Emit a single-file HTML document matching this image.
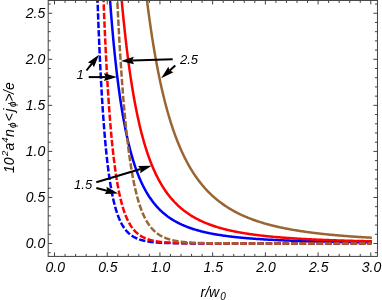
<!DOCTYPE html>
<html><head><meta charset="utf-8"><title>plot</title>
<style>
html,body{margin:0;padding:0;background:#fff;}
body{width:382px;height:300px;overflow:hidden;}
svg{display:block;}
text{font-family:"Liberation Sans",sans-serif;font-style:italic;font-size:14px;fill:#000;}
</style></head><body>
<svg width="382" height="300" viewBox="0 0 382 300">
<rect x="0" y="0" width="382" height="300" fill="#fff"/>
<defs><clipPath id="c"><rect x="48.2" y="0.45" width="329.25" height="255.95"/></clipPath></defs>
<g clip-path="url(#c)">
<path d="M108.66,-19.69 L109.37,-9.22 L110.09,0.71 L110.80,10.13 L111.52,19.06 L112.23,27.55 L112.95,35.62 L113.66,43.30 L114.38,50.60 L115.10,57.55 L115.81,64.18 L116.53,70.50 L117.24,76.52 L117.96,82.27 L118.67,87.76 L119.39,93.01 L120.10,98.02 L120.82,102.81 L121.53,107.40 L122.25,111.79 L122.96,116.00 L123.68,120.02 L124.40,123.89 L125.11,127.59 L125.83,131.14 L126.54,134.55 L127.26,137.82 L127.97,140.97 L128.69,143.99 L129.40,146.89 L130.12,149.69 L130.83,152.38 L131.55,154.96 L132.26,157.45 L132.98,159.85 L133.69,162.16 L134.41,164.38 L135.13,166.53 L135.84,168.60 L136.56,170.60 L137.27,172.52 L137.99,174.38 L138.70,176.18 L139.42,177.91 L140.13,179.59 L140.85,181.20 L141.56,182.77 L142.28,184.28 L142.99,185.75 L143.71,187.16 L144.43,188.53 L145.14,189.86 L145.86,191.14 L146.57,192.39 L147.29,193.59 L148.00,194.76 L148.72,195.89 L149.43,196.99 L150.15,198.05 L150.86,199.08 L151.58,200.08 L152.29,201.06 L153.01,202.00 L153.72,202.91 L154.44,203.80 L155.16,204.66 L155.87,205.50 L156.59,206.32 L157.30,207.11 L158.02,207.88 L158.73,208.62 L159.45,209.35 L160.16,210.06 L160.88,210.74 L161.59,211.41 L162.31,212.06 L163.02,212.70 L163.74,213.31 L164.46,213.92 L165.17,214.50 L165.89,215.07 L166.60,215.62 L167.32,216.16 L168.03,216.69 L168.75,217.20 L169.46,217.70 L170.18,218.19 L170.89,218.67 L171.61,219.13 L172.32,219.58 L173.04,220.02 L173.76,220.46 L174.47,220.88 L175.19,221.28 L175.90,221.69 L176.62,222.08 L177.33,222.46 L178.05,222.83 L178.76,223.19 L179.48,223.55 L180.19,223.90 L180.91,224.23 L181.62,224.57 L182.34,224.89 L183.05,225.21 L183.77,225.52 L184.49,225.82 L185.20,226.11 L185.92,226.40 L186.63,226.69 L187.35,226.96 L188.06,227.23 L188.78,227.50 L189.49,227.76 L190.21,228.01 L190.92,228.26 L191.64,228.50 L192.35,228.74 L193.07,228.97 L193.79,229.20 L194.50,229.42 L195.22,229.64 L195.93,229.85 L196.65,230.06 L197.36,230.27 L198.08,230.47 L198.79,230.67 L199.51,230.86 L200.22,231.05 L200.94,231.24 L201.65,231.42 L202.37,231.60 L203.08,231.77 L203.80,231.94 L204.52,232.11 L205.23,232.28 L205.95,232.44 L206.66,232.60 L207.38,232.75 L208.09,232.91 L208.81,233.06 L209.52,233.20 L210.24,233.35 L210.95,233.49 L211.67,233.63 L212.38,233.76 L213.10,233.90 L213.82,234.03 L214.53,234.16 L215.25,234.28 L215.96,234.41 L216.68,234.53 L217.39,234.65 L218.11,234.77 L218.82,234.89 L219.54,235.00 L220.25,235.11 L220.97,235.22 L221.68,235.33 L222.40,235.43 L223.11,235.54 L223.83,235.64 L224.55,235.74 L225.26,235.84 L225.98,235.94 L226.69,236.03 L227.41,236.13 L228.12,236.22 L228.84,236.31 L229.55,236.40 L230.27,236.49 L230.98,236.58 L231.70,236.66 L232.41,236.74 L233.13,236.83 L233.85,236.91 L234.56,236.99 L235.28,237.07 L235.99,237.14 L236.71,237.22 L237.42,237.29 L238.14,237.37 L238.85,237.44 L239.57,237.51 L240.28,237.58 L241.00,237.65 L241.71,237.72 L242.43,237.78 L243.15,237.85 L243.86,237.92 L244.58,237.98 L245.29,238.04 L246.01,238.10 L246.72,238.17 L247.44,238.23 L248.15,238.28 L248.87,238.34 L249.58,238.40 L250.30,238.46 L251.01,238.51 L251.73,238.57 L252.44,238.62 L253.16,238.67 L253.88,238.73 L254.59,238.78 L255.31,238.83 L256.02,238.88 L256.74,238.93 L257.45,238.98 L258.17,239.03 L258.88,239.07 L259.60,239.12 L260.31,239.17 L261.03,239.21 L261.74,239.26 L262.46,239.30 L263.18,239.35 L263.89,239.39 L264.61,239.43 L265.32,239.47 L266.04,239.51 L266.75,239.55 L267.47,239.60 L268.18,239.63 L268.90,239.67 L269.61,239.71 L270.33,239.75 L271.04,239.79 L271.76,239.82 L272.47,239.86 L273.19,239.90 L273.91,239.93 L274.62,239.97 L275.34,240.00 L276.05,240.04 L276.77,240.07 L277.48,240.10 L278.20,240.14 L278.91,240.17 L279.63,240.20 L280.34,240.23 L281.06,240.26 L281.77,240.29 L282.49,240.32 L283.21,240.35 L283.92,240.38 L284.64,240.41 L285.35,240.44 L286.07,240.47 L286.78,240.50 L287.50,240.53 L288.21,240.55 L288.93,240.58 L289.64,240.61 L290.36,240.63 L291.07,240.66 L291.79,240.69 L292.50,240.71 L293.22,240.74 L293.94,240.76 L294.65,240.79 L295.37,240.81 L296.08,240.83 L296.80,240.86 L297.51,240.88 L298.23,240.90 L298.94,240.93 L299.66,240.95 L300.37,240.97 L301.09,240.99 L301.80,241.02 L302.52,241.04 L303.24,241.06 L303.95,241.08 L304.67,241.10 L305.38,241.12 L306.10,241.14 L306.81,241.16 L307.53,241.18 L308.24,241.20 L308.96,241.22 L309.67,241.24 L310.39,241.26 L311.10,241.28 L311.82,241.30 L312.54,241.31 L313.25,241.33 L313.97,241.35 L314.68,241.37 L315.40,241.39 L316.11,241.40 L316.83,241.42 L317.54,241.44 L318.26,241.45 L318.97,241.47 L319.69,241.49 L320.40,241.50 L321.12,241.52 L321.83,241.53 L322.55,241.55 L323.27,241.57 L323.98,241.58 L324.70,241.60 L325.41,241.61 L326.13,241.63 L326.84,241.64 L327.56,241.66 L328.27,241.67 L328.99,241.68 L329.70,241.70 L330.42,241.71 L331.13,241.73 L331.85,241.74 L332.57,241.75 L333.28,241.77 L334.00,241.78 L334.71,241.79 L335.43,241.81 L336.14,241.82 L336.86,241.83 L337.57,241.84 L338.29,241.86 L339.00,241.87 L339.72,241.88 L340.43,241.89 L341.15,241.90 L341.86,241.92 L342.58,241.93 L343.30,241.94 L344.01,241.95 L344.73,241.96 L345.44,241.97 L346.16,241.99 L346.87,242.00 L347.59,242.01 L348.30,242.02 L349.02,242.03 L349.73,242.04 L350.45,242.05 L351.16,242.06 L351.88,242.07 L352.60,242.08 L353.31,242.09 L354.03,242.10 L354.74,242.11 L355.46,242.12 L356.17,242.13 L356.89,242.14 L357.60,242.15 L358.32,242.16 L359.03,242.17 L359.75,242.18 L360.46,242.19 L361.18,242.19 L361.90,242.20 L362.61,242.21 L363.33,242.22 L364.04,242.23 L364.76,242.24 L365.47,242.25 L366.19,242.26 L366.90,242.26 L367.62,242.27 L368.33,242.28 L369.05,242.29 L369.76,242.30 L370.48,242.30 L371.19,242.31 L371.91,242.32" stroke="#0000ff" stroke-width="2.5" fill="none"/>
<path d="M120.10,-18.41 L120.82,-9.87 L121.53,-1.69 L122.25,6.14 L122.96,13.64 L123.68,20.83 L124.40,27.72 L125.11,34.33 L125.83,40.68 L126.54,46.77 L127.26,52.63 L127.97,58.25 L128.69,63.65 L129.40,68.85 L130.12,73.85 L130.83,78.66 L131.55,83.29 L132.26,87.75 L132.98,92.05 L133.69,96.19 L134.41,100.18 L135.13,104.03 L135.84,107.74 L136.56,111.32 L137.27,114.78 L137.99,118.12 L138.70,121.34 L139.42,124.46 L140.13,127.47 L140.85,130.38 L141.56,133.19 L142.28,135.91 L142.99,138.54 L143.71,141.09 L144.43,143.56 L145.14,145.95 L145.86,148.26 L146.57,150.50 L147.29,152.67 L148.00,154.77 L148.72,156.81 L149.43,158.79 L150.15,160.71 L150.86,162.57 L151.58,164.37 L152.29,166.13 L153.01,167.83 L153.72,169.48 L154.44,171.08 L155.16,172.64 L155.87,174.16 L156.59,175.63 L157.30,177.06 L158.02,178.45 L158.73,179.80 L159.45,181.12 L160.16,182.39 L160.88,183.64 L161.59,184.85 L162.31,186.03 L163.02,187.17 L163.74,188.29 L164.46,189.38 L165.17,190.44 L165.89,191.47 L166.60,192.48 L167.32,193.46 L168.03,194.41 L168.75,195.34 L169.46,196.25 L170.18,197.13 L170.89,198.00 L171.61,198.84 L172.32,199.66 L173.04,200.46 L173.76,201.24 L174.47,202.01 L175.19,202.75 L175.90,203.48 L176.62,204.19 L177.33,204.88 L178.05,205.56 L178.76,206.22 L179.48,206.86 L180.19,207.50 L180.91,208.11 L181.62,208.72 L182.34,209.31 L183.05,209.88 L183.77,210.44 L184.49,211.00 L185.20,211.53 L185.92,212.06 L186.63,212.58 L187.35,213.08 L188.06,213.57 L188.78,214.06 L189.49,214.53 L190.21,214.99 L190.92,215.44 L191.64,215.89 L192.35,216.32 L193.07,216.75 L193.79,217.16 L194.50,217.57 L195.22,217.97 L195.93,218.36 L196.65,218.74 L197.36,219.12 L198.08,219.48 L198.79,219.84 L199.51,220.20 L200.22,220.54 L200.94,220.88 L201.65,221.22 L202.37,221.54 L203.08,221.86 L203.80,222.18 L204.52,222.48 L205.23,222.79 L205.95,223.08 L206.66,223.37 L207.38,223.66 L208.09,223.94 L208.81,224.21 L209.52,224.48 L210.24,224.74 L210.95,225.00 L211.67,225.26 L212.38,225.51 L213.10,225.75 L213.82,226.00 L214.53,226.23 L215.25,226.46 L215.96,226.69 L216.68,226.92 L217.39,227.14 L218.11,227.35 L218.82,227.57 L219.54,227.78 L220.25,227.98 L220.97,228.18 L221.68,228.38 L222.40,228.58 L223.11,228.77 L223.83,228.96 L224.55,229.14 L225.26,229.32 L225.98,229.50 L226.69,229.68 L227.41,229.85 L228.12,230.02 L228.84,230.19 L229.55,230.35 L230.27,230.51 L230.98,230.67 L231.70,230.83 L232.41,230.98 L233.13,231.13 L233.85,231.28 L234.56,231.43 L235.28,231.57 L235.99,231.72 L236.71,231.86 L237.42,231.99 L238.14,232.13 L238.85,232.26 L239.57,232.39 L240.28,232.52 L241.00,232.65 L241.71,232.78 L242.43,232.90 L243.15,233.02 L243.86,233.14 L244.58,233.26 L245.29,233.37 L246.01,233.49 L246.72,233.60 L247.44,233.71 L248.15,233.82 L248.87,233.93 L249.58,234.03 L250.30,234.14 L251.01,234.24 L251.73,234.34 L252.44,234.44 L253.16,234.54 L253.88,234.64 L254.59,234.73 L255.31,234.83 L256.02,234.92 L256.74,235.01 L257.45,235.10 L258.17,235.19 L258.88,235.28 L259.60,235.37 L260.31,235.45 L261.03,235.53 L261.74,235.62 L262.46,235.70 L263.18,235.78 L263.89,235.86 L264.61,235.94 L265.32,236.02 L266.04,236.09 L266.75,236.17 L267.47,236.24 L268.18,236.31 L268.90,236.39 L269.61,236.46 L270.33,236.53 L271.04,236.60 L271.76,236.67 L272.47,236.73 L273.19,236.80 L273.91,236.87 L274.62,236.93 L275.34,237.00 L276.05,237.06 L276.77,237.12 L277.48,237.18 L278.20,237.24 L278.91,237.30 L279.63,237.36 L280.34,237.42 L281.06,237.48 L281.77,237.54 L282.49,237.59 L283.21,237.65 L283.92,237.70 L284.64,237.76 L285.35,237.81 L286.07,237.86 L286.78,237.92 L287.50,237.97 L288.21,238.02 L288.93,238.07 L289.64,238.12 L290.36,238.17 L291.07,238.22 L291.79,238.26 L292.50,238.31 L293.22,238.36 L293.94,238.40 L294.65,238.45 L295.37,238.50 L296.08,238.54 L296.80,238.58 L297.51,238.63 L298.23,238.67 L298.94,238.71 L299.66,238.75 L300.37,238.80 L301.09,238.84 L301.80,238.88 L302.52,238.92 L303.24,238.96 L303.95,239.00 L304.67,239.03 L305.38,239.07 L306.10,239.11 L306.81,239.15 L307.53,239.19 L308.24,239.22 L308.96,239.26 L309.67,239.29 L310.39,239.33 L311.10,239.36 L311.82,239.40 L312.54,239.43 L313.25,239.47 L313.97,239.50 L314.68,239.53 L315.40,239.56 L316.11,239.60 L316.83,239.63 L317.54,239.66 L318.26,239.69 L318.97,239.72 L319.69,239.75 L320.40,239.78 L321.12,239.81 L321.83,239.84 L322.55,239.87 L323.27,239.90 L323.98,239.93 L324.70,239.96 L325.41,239.99 L326.13,240.01 L326.84,240.04 L327.56,240.07 L328.27,240.09 L328.99,240.12 L329.70,240.15 L330.42,240.17 L331.13,240.20 L331.85,240.22 L332.57,240.25 L333.28,240.27 L334.00,240.30 L334.71,240.32 L335.43,240.35 L336.14,240.37 L336.86,240.40 L337.57,240.42 L338.29,240.44 L339.00,240.47 L339.72,240.49 L340.43,240.51 L341.15,240.53 L341.86,240.55 L342.58,240.58 L343.30,240.60 L344.01,240.62 L344.73,240.64 L345.44,240.66 L346.16,240.68 L346.87,240.70 L347.59,240.72 L348.30,240.74 L349.02,240.76 L349.73,240.78 L350.45,240.80 L351.16,240.82 L351.88,240.84 L352.60,240.86 L353.31,240.88 L354.03,240.90 L354.74,240.92 L355.46,240.93 L356.17,240.95 L356.89,240.97 L357.60,240.99 L358.32,241.01 L359.03,241.02 L359.75,241.04 L360.46,241.06 L361.18,241.08 L361.90,241.09 L362.61,241.11 L363.33,241.12 L364.04,241.14 L364.76,241.16 L365.47,241.17 L366.19,241.19 L366.90,241.21 L367.62,241.22 L368.33,241.24 L369.05,241.25 L369.76,241.27 L370.48,241.28 L371.19,241.30 L371.91,241.31" stroke="#ff0000" stroke-width="2.5" fill="none"/>
<path d="M145.14,-15.05 L145.86,-8.93 L146.57,-3.00 L147.29,2.74 L148.00,8.31 L148.72,13.71 L149.43,18.94 L150.15,24.02 L150.86,28.94 L151.58,33.72 L152.29,38.36 L153.01,42.87 L153.72,47.24 L154.44,51.49 L155.16,55.61 L155.87,59.62 L156.59,63.52 L157.30,67.30 L158.02,70.98 L158.73,74.56 L159.45,78.05 L160.16,81.43 L160.88,84.73 L161.59,87.93 L162.31,91.06 L163.02,94.09 L163.74,97.05 L164.46,99.93 L165.17,102.74 L165.89,105.47 L166.60,108.14 L167.32,110.73 L168.03,113.26 L168.75,115.73 L169.46,118.13 L170.18,120.48 L170.89,122.76 L171.61,124.99 L172.32,127.17 L173.04,129.29 L173.76,131.37 L174.47,133.39 L175.19,135.36 L175.90,137.29 L176.62,139.17 L177.33,141.01 L178.05,142.80 L178.76,144.56 L179.48,146.27 L180.19,147.94 L180.91,149.58 L181.62,151.18 L182.34,152.74 L183.05,154.27 L183.77,155.76 L184.49,157.22 L185.20,158.65 L185.92,160.05 L186.63,161.41 L187.35,162.75 L188.06,164.06 L188.78,165.34 L189.49,166.59 L190.21,167.82 L190.92,169.02 L191.64,170.19 L192.35,171.34 L193.07,172.47 L193.79,173.57 L194.50,174.65 L195.22,175.71 L195.93,176.75 L196.65,177.77 L197.36,178.76 L198.08,179.74 L198.79,180.69 L199.51,181.63 L200.22,182.55 L200.94,183.45 L201.65,184.33 L202.37,185.20 L203.08,186.05 L203.80,186.88 L204.52,187.70 L205.23,188.50 L205.95,189.28 L206.66,190.05 L207.38,190.81 L208.09,191.55 L208.81,192.28 L209.52,193.00 L210.24,193.70 L210.95,194.39 L211.67,195.06 L212.38,195.73 L213.10,196.38 L213.82,197.02 L214.53,197.65 L215.25,198.26 L215.96,198.87 L216.68,199.47 L217.39,200.05 L218.11,200.63 L218.82,201.19 L219.54,201.74 L220.25,202.29 L220.97,202.82 L221.68,203.35 L222.40,203.87 L223.11,204.38 L223.83,204.88 L224.55,205.37 L225.26,205.85 L225.98,206.33 L226.69,206.79 L227.41,207.25 L228.12,207.70 L228.84,208.15 L229.55,208.59 L230.27,209.02 L230.98,209.44 L231.70,209.85 L232.41,210.26 L233.13,210.67 L233.85,211.06 L234.56,211.45 L235.28,211.83 L235.99,212.21 L236.71,212.58 L237.42,212.95 L238.14,213.31 L238.85,213.66 L239.57,214.01 L240.28,214.35 L241.00,214.69 L241.71,215.03 L242.43,215.35 L243.15,215.68 L243.86,215.99 L244.58,216.31 L245.29,216.62 L246.01,216.92 L246.72,217.22 L247.44,217.51 L248.15,217.80 L248.87,218.09 L249.58,218.37 L250.30,218.65 L251.01,218.92 L251.73,219.19 L252.44,219.46 L253.16,219.72 L253.88,219.98 L254.59,220.23 L255.31,220.48 L256.02,220.73 L256.74,220.97 L257.45,221.21 L258.17,221.45 L258.88,221.68 L259.60,221.91 L260.31,222.14 L261.03,222.36 L261.74,222.58 L262.46,222.80 L263.18,223.01 L263.89,223.23 L264.61,223.43 L265.32,223.64 L266.04,223.84 L266.75,224.04 L267.47,224.24 L268.18,224.43 L268.90,224.63 L269.61,224.82 L270.33,225.00 L271.04,225.19 L271.76,225.37 L272.47,225.55 L273.19,225.73 L273.91,225.90 L274.62,226.08 L275.34,226.25 L276.05,226.41 L276.77,226.58 L277.48,226.74 L278.20,226.91 L278.91,227.07 L279.63,227.22 L280.34,227.38 L281.06,227.53 L281.77,227.68 L282.49,227.83 L283.21,227.98 L283.92,228.13 L284.64,228.27 L285.35,228.42 L286.07,228.56 L286.78,228.70 L287.50,228.83 L288.21,228.97 L288.93,229.10 L289.64,229.23 L290.36,229.36 L291.07,229.49 L291.79,229.62 L292.50,229.75 L293.22,229.87 L293.94,229.99 L294.65,230.12 L295.37,230.24 L296.08,230.35 L296.80,230.47 L297.51,230.59 L298.23,230.70 L298.94,230.82 L299.66,230.93 L300.37,231.04 L301.09,231.15 L301.80,231.25 L302.52,231.36 L303.24,231.47 L303.95,231.57 L304.67,231.67 L305.38,231.77 L306.10,231.88 L306.81,231.97 L307.53,232.07 L308.24,232.17 L308.96,232.27 L309.67,232.36 L310.39,232.46 L311.10,232.55 L311.82,232.64 L312.54,232.73 L313.25,232.82 L313.97,232.91 L314.68,233.00 L315.40,233.08 L316.11,233.17 L316.83,233.25 L317.54,233.34 L318.26,233.42 L318.97,233.50 L319.69,233.59 L320.40,233.67 L321.12,233.75 L321.83,233.82 L322.55,233.90 L323.27,233.98 L323.98,234.06 L324.70,234.13 L325.41,234.21 L326.13,234.28 L326.84,234.35 L327.56,234.42 L328.27,234.50 L328.99,234.57 L329.70,234.64 L330.42,234.71 L331.13,234.77 L331.85,234.84 L332.57,234.91 L333.28,234.98 L334.00,235.04 L334.71,235.11 L335.43,235.17 L336.14,235.23 L336.86,235.30 L337.57,235.36 L338.29,235.42 L339.00,235.48 L339.72,235.54 L340.43,235.60 L341.15,235.66 L341.86,235.72 L342.58,235.78 L343.30,235.84 L344.01,235.89 L344.73,235.95 L345.44,236.01 L346.16,236.06 L346.87,236.12 L347.59,236.17 L348.30,236.22 L349.02,236.28 L349.73,236.33 L350.45,236.38 L351.16,236.43 L351.88,236.49 L352.60,236.54 L353.31,236.59 L354.03,236.64 L354.74,236.69 L355.46,236.73 L356.17,236.78 L356.89,236.83 L357.60,236.88 L358.32,236.92 L359.03,236.97 L359.75,237.02 L360.46,237.06 L361.18,237.11 L361.90,237.15 L362.61,237.20 L363.33,237.24 L364.04,237.28 L364.76,237.33 L365.47,237.37 L366.19,237.41 L366.90,237.45 L367.62,237.50 L368.33,237.54 L369.05,237.58 L369.76,237.62 L370.48,237.66 L371.19,237.70 L371.91,237.74" stroke="#996633" stroke-width="2.5" fill="none"/>
<path d="M96.92,-18.88 L97.50,-1.32 L98.08,14.94 L98.66,30.01 L99.24,43.98 L99.82,56.95 L100.41,68.98 L100.99,80.17 L101.57,90.56 L102.15,100.23 L102.73,109.23 L103.31,117.61 L103.90,125.41 L104.48,132.69 L105.06,139.48 L105.64,145.81 L106.22,151.72 L106.80,157.24 L107.38,162.40 L107.97,167.22 L108.55,171.74 L109.13,175.96 L109.71,179.91 L110.29,183.61 L110.87,187.08 L111.45,190.33 L112.04,193.37 L112.62,196.23 L113.20,198.91 L113.78,201.43 L114.36,203.79 L114.94,206.01 L115.52,208.10 L116.11,210.06 L116.69,211.91 L117.27,213.64 L117.85,215.27 L118.43,216.81 L119.01,218.25 L119.60,219.62 L120.18,220.90 L120.76,222.11 L121.34,223.25 L121.92,224.32 L122.50,225.34 L123.08,226.29 L123.67,227.19 L124.25,228.05 L124.83,228.85 L125.41,229.61 L125.99,230.33 L126.57,231.00 L127.15,231.64 L127.74,232.25 L128.32,232.82 L128.90,233.36 L129.48,233.87 L130.06,234.36 L130.64,234.82 L131.22,235.25 L131.81,235.66 L132.39,236.05 L132.97,236.42 L133.55,236.77 L134.13,237.10 L134.71,237.41 L135.30,237.71 L135.88,237.99 L136.46,238.26 L137.04,238.51 L137.62,238.75 L138.20,238.98 L138.78,239.19 L139.37,239.40 L139.95,239.59 L140.53,239.78 L141.11,239.95 L141.69,240.12 L142.27,240.28 L142.85,240.43 L143.44,240.57 L144.02,240.71 L144.60,240.84 L145.18,240.96 L145.76,241.08 L146.34,241.19 L146.92,241.29 L147.51,241.39 L148.09,241.49 L148.67,241.58 L149.25,241.67 L149.83,241.75 L150.41,241.83 L151.00,241.90 L151.58,241.97 L152.16,242.04 L152.74,242.10 L153.32,242.17 L153.90,242.22 L154.48,242.28 L155.07,242.33 L155.65,242.38 L156.23,242.43 L156.81,242.48 L157.39,242.52 L157.97,242.56 L158.55,242.60 L159.14,242.64 L159.72,242.68 L160.30,242.71 L160.88,242.74 L161.46,242.77 L162.04,242.80 L162.62,242.83 L163.21,242.86 L163.79,242.89 L164.37,242.91 L164.95,242.93 L165.53,242.96 L166.11,242.98 L166.70,243.00 L167.28,243.02 L167.86,243.04 L168.44,243.05 L169.02,243.07 L169.60,243.09 L170.18,243.10 L170.77,243.12 L171.35,243.13 L171.93,243.15 L172.51,243.16 L173.09,243.17 L173.67,243.18 L174.25,243.19 L174.84,243.21 L175.42,243.22 L176.00,243.23 L176.58,243.24 L177.16,243.24 L177.74,243.25 L178.33,243.26 L178.91,243.27 L179.49,243.28 L180.07,243.28 L180.65,243.29 L181.23,243.30 L181.81,243.30 L182.40,243.31 L182.98,243.32 L183.56,243.32 L184.14,243.33 L184.72,243.33 L185.30,243.34 L185.88,243.34 L186.47,243.35 L187.05,243.35 L187.63,243.35 L188.21,243.36 L188.79,243.36 L189.37,243.37 L189.95,243.37 L190.54,243.37 L191.12,243.38 L191.70,243.38 L192.28,243.38 L192.86,243.38 L193.44,243.39 L194.03,243.39 L194.61,243.39 L195.19,243.39 L195.77,243.40 L196.35,243.40 L196.93,243.40 L197.51,243.40 L198.10,243.40 L198.68,243.41 L199.26,243.41 L199.84,243.41 L200.42,243.41 L201.00,243.41 L201.58,243.41 L202.17,243.42 L202.75,243.42 L203.33,243.42 L203.91,243.42 L204.49,243.42 L205.07,243.42 L205.65,243.42 L206.24,243.42 L206.82,243.43 L207.40,243.43 L207.98,243.43 L208.56,243.43 L209.14,243.43 L209.73,243.43 L210.31,243.43 L210.89,243.43 L211.47,243.43 L212.05,243.43 L212.63,243.43 L213.21,243.43 L213.80,243.43 L214.38,243.44 L214.96,243.44 L215.54,243.44 L216.12,243.44 L216.70,243.44 L217.28,243.44 L217.87,243.44 L218.45,243.44 L219.03,243.44 L219.61,243.44 L220.19,243.44 L220.77,243.44 L221.35,243.44 L221.94,243.44 L222.52,243.44 L223.10,243.44 L223.68,243.44 L224.26,243.44 L224.84,243.44 L225.43,243.44 L226.01,243.44 L226.59,243.44 L227.17,243.44 L227.75,243.44 L228.33,243.44 L228.91,243.44 L229.50,243.44 L230.08,243.44 L230.66,243.45 L231.24,243.45 L231.82,243.45 L232.40,243.45 L232.98,243.45 L233.57,243.45 L234.15,243.45 L234.73,243.45 L235.31,243.45 L235.89,243.45 L236.47,243.45 L237.05,243.45 L237.64,243.45 L238.22,243.45 L238.80,243.45 L239.38,243.45 L239.96,243.45 L240.54,243.45 L241.13,243.45 L241.71,243.45 L242.29,243.45 L242.87,243.45 L243.45,243.45 L244.03,243.45 L244.61,243.45 L245.20,243.45 L245.78,243.45 L246.36,243.45 L246.94,243.45 L247.52,243.45 L248.10,243.45 L248.68,243.45 L249.27,243.45 L249.85,243.45 L250.43,243.45 L251.01,243.45 L251.59,243.45 L252.17,243.45 L252.75,243.45 L253.34,243.45 L253.92,243.45 L254.50,243.45 L255.08,243.45 L255.66,243.45 L256.24,243.45 L256.83,243.45 L257.41,243.45 L257.99,243.45 L258.57,243.45 L259.15,243.45 L259.73,243.45 L260.31,243.45 L260.90,243.45 L261.48,243.45 L262.06,243.45 L262.64,243.45 L263.22,243.45 L263.80,243.45 L264.38,243.45 L264.97,243.45 L265.55,243.45 L266.13,243.45 L266.71,243.45 L267.29,243.45 L267.87,243.45 L268.45,243.45 L269.04,243.45 L269.62,243.45 L270.20,243.45 L270.78,243.45 L271.36,243.45 L271.94,243.45 L272.53,243.45 L273.11,243.45 L273.69,243.45 L274.27,243.45 L274.85,243.45 L275.43,243.45 L276.01,243.45 L276.60,243.45 L277.18,243.45 L277.76,243.45 L278.34,243.45 L278.92,243.45 L279.50,243.45 L280.08,243.45 L280.67,243.45 L281.25,243.45 L281.83,243.45 L282.41,243.45 L282.99,243.45 L283.57,243.45 L284.15,243.45 L284.74,243.45 L285.32,243.45 L285.90,243.45 L286.48,243.45 L287.06,243.45 L287.64,243.45 L288.23,243.45 L288.81,243.45 L289.39,243.45 L289.97,243.45 L290.55,243.45 L291.13,243.45 L291.71,243.45 L292.30,243.45 L292.88,243.45 L293.46,243.45 L294.04,243.45 L294.62,243.45 L295.20,243.45 L295.78,243.45 L296.37,243.45 L296.95,243.45 L297.53,243.45 L298.11,243.45 L298.69,243.45 L299.27,243.45 L299.85,243.45 L300.44,243.45 L301.02,243.45 L301.60,243.45 L302.18,243.45 L302.76,243.45 L303.34,243.45 L303.93,243.45 L304.51,243.45 L305.09,243.45 L305.67,243.45 L306.25,243.45 L306.83,243.45 L307.41,243.45 L308.00,243.45 L308.58,243.45 L309.16,243.45 L309.74,243.45 L310.32,243.45 L310.90,243.45 L311.48,243.45 L312.07,243.45 L312.65,243.45 L313.23,243.45 L313.81,243.45 L314.39,243.45 L314.97,243.45 L315.55,243.45 L316.14,243.45 L316.72,243.45 L317.30,243.45 L317.88,243.45 L318.46,243.45 L319.04,243.45 L319.63,243.45 L320.21,243.45 L320.79,243.45 L321.37,243.45 L321.95,243.45 L322.53,243.45 L323.11,243.45 L323.70,243.45 L324.28,243.45 L324.86,243.45 L325.44,243.45 L326.02,243.45 L326.60,243.45 L327.18,243.45 L327.77,243.45 L328.35,243.45 L328.93,243.45 L329.51,243.45 L330.09,243.45 L330.67,243.45 L331.25,243.45 L331.84,243.45 L332.42,243.45 L333.00,243.45 L333.58,243.45 L334.16,243.45 L334.74,243.45 L335.33,243.45 L335.91,243.45 L336.49,243.45 L337.07,243.45 L337.65,243.45 L338.23,243.45 L338.81,243.45 L339.40,243.45 L339.98,243.45 L340.56,243.45 L341.14,243.45 L341.72,243.45 L342.30,243.45 L342.88,243.45 L343.47,243.45 L344.05,243.45 L344.63,243.45 L345.21,243.45 L345.79,243.45 L346.37,243.45 L346.95,243.45 L347.54,243.45 L348.12,243.45 L348.70,243.45 L349.28,243.45 L349.86,243.45 L350.44,243.45 L351.03,243.45 L351.61,243.45 L352.19,243.45 L352.77,243.45 L353.35,243.45 L353.93,243.45 L354.51,243.45 L355.10,243.45 L355.68,243.45 L356.26,243.45 L356.84,243.45 L357.42,243.45 L358.00,243.45 L358.58,243.45 L359.17,243.45 L359.75,243.45 L360.33,243.45 L360.91,243.45 L361.49,243.45 L362.07,243.45 L362.65,243.45 L363.24,243.45 L363.82,243.45 L364.40,243.45 L364.98,243.45 L365.56,243.45 L366.14,243.45 L366.73,243.45 L367.31,243.45 L367.89,243.45 L368.47,243.45 L369.05,243.45 L369.63,243.45 L370.21,243.45 L370.80,243.45 L371.38,243.45" stroke="#0000ff" stroke-width="2.5" fill="none" stroke-dasharray="6.4 2.059" stroke-dashoffset="1.68"/>
<path d="M102.83,-19.33 L103.41,-3.27 L103.99,11.71 L104.57,25.70 L105.16,38.77 L105.74,50.98 L106.32,62.40 L106.90,73.08 L107.48,83.07 L108.06,92.42 L108.64,101.19 L109.23,109.40 L109.81,117.09 L110.39,124.31 L110.97,131.08 L111.55,137.43 L112.13,143.40 L112.71,149.00 L113.30,154.26 L113.88,159.21 L114.46,163.86 L115.04,168.24 L115.62,172.35 L116.20,176.22 L116.78,179.87 L117.37,183.30 L117.95,186.54 L118.53,189.59 L119.11,192.46 L119.69,195.17 L120.27,197.72 L120.86,200.13 L121.44,202.40 L122.02,204.55 L122.60,206.58 L123.18,208.49 L123.76,210.30 L124.34,212.00 L124.93,213.62 L125.51,215.14 L126.09,216.59 L126.67,217.95 L127.25,219.24 L127.83,220.46 L128.41,221.62 L129.00,222.71 L129.58,223.75 L130.16,224.73 L130.74,225.66 L131.32,226.54 L131.90,227.37 L132.48,228.16 L133.07,228.91 L133.65,229.62 L134.23,230.30 L134.81,230.93 L135.39,231.54 L135.97,232.12 L136.56,232.66 L137.14,233.18 L137.72,233.67 L138.30,234.14 L138.88,234.58 L139.46,235.00 L140.04,235.40 L140.63,235.78 L141.21,236.15 L141.79,236.49 L142.37,236.82 L142.95,237.13 L143.53,237.42 L144.11,237.70 L144.70,237.97 L145.28,238.22 L145.86,238.46 L146.44,238.69 L147.02,238.91 L147.60,239.12 L148.18,239.32 L148.77,239.51 L149.35,239.69 L149.93,239.86 L150.51,240.02 L151.09,240.18 L151.67,240.33 L152.26,240.47 L152.84,240.60 L153.42,240.73 L154.00,240.85 L154.58,240.97 L155.16,241.08 L155.74,241.18 L156.33,241.28 L156.91,241.38 L157.49,241.47 L158.07,241.56 L158.65,241.64 L159.23,241.72 L159.81,241.80 L160.40,241.87 L160.98,241.94 L161.56,242.01 L162.14,242.07 L162.72,242.13 L163.30,242.19 L163.88,242.24 L164.47,242.29 L165.05,242.34 L165.63,242.39 L166.21,242.44 L166.79,242.48 L167.37,242.52 L167.96,242.56 L168.54,242.60 L169.12,242.64 L169.70,242.67 L170.28,242.70 L170.86,242.74 L171.44,242.77 L172.03,242.80 L172.61,242.82 L173.19,242.85 L173.77,242.87 L174.35,242.90 L174.93,242.92 L175.51,242.94 L176.10,242.97 L176.68,242.99 L177.26,243.01 L177.84,243.02 L178.42,243.04 L179.00,243.06 L179.58,243.07 L180.17,243.09 L180.75,243.11 L181.33,243.12 L181.91,243.13 L182.49,243.15 L183.07,243.16 L183.66,243.17 L184.24,243.18 L184.82,243.19 L185.40,243.20 L185.98,243.21 L186.56,243.22 L187.14,243.23 L187.73,243.24 L188.31,243.25 L188.89,243.26 L189.47,243.27 L190.05,243.27 L190.63,243.28 L191.21,243.29 L191.80,243.29 L192.38,243.30 L192.96,243.31 L193.54,243.31 L194.12,243.32 L194.70,243.32 L195.28,243.33 L195.87,243.33 L196.45,243.34 L197.03,243.34 L197.61,243.35 L198.19,243.35 L198.77,243.35 L199.36,243.36 L199.94,243.36 L200.52,243.37 L201.10,243.37 L201.68,243.37 L202.26,243.38 L202.84,243.38 L203.43,243.38 L204.01,243.38 L204.59,243.39 L205.17,243.39 L205.75,243.39 L206.33,243.39 L206.91,243.40 L207.50,243.40 L208.08,243.40 L208.66,243.40 L209.24,243.40 L209.82,243.41 L210.40,243.41 L210.98,243.41 L211.57,243.41 L212.15,243.41 L212.73,243.41 L213.31,243.42 L213.89,243.42 L214.47,243.42 L215.06,243.42 L215.64,243.42 L216.22,243.42 L216.80,243.42 L217.38,243.42 L217.96,243.42 L218.54,243.43 L219.13,243.43 L219.71,243.43 L220.29,243.43 L220.87,243.43 L221.45,243.43 L222.03,243.43 L222.61,243.43 L223.20,243.43 L223.78,243.43 L224.36,243.43 L224.94,243.43 L225.52,243.43 L226.10,243.44 L226.68,243.44 L227.27,243.44 L227.85,243.44 L228.43,243.44 L229.01,243.44 L229.59,243.44 L230.17,243.44 L230.76,243.44 L231.34,243.44 L231.92,243.44 L232.50,243.44 L233.08,243.44 L233.66,243.44 L234.24,243.44 L234.83,243.44 L235.41,243.44 L235.99,243.44 L236.57,243.44 L237.15,243.44 L237.73,243.44 L238.31,243.44 L238.90,243.44 L239.48,243.44 L240.06,243.44 L240.64,243.44 L241.22,243.44 L241.80,243.44 L242.38,243.44 L242.97,243.45 L243.55,243.45 L244.13,243.45 L244.71,243.45 L245.29,243.45 L245.87,243.45 L246.46,243.45 L247.04,243.45 L247.62,243.45 L248.20,243.45 L248.78,243.45 L249.36,243.45 L249.94,243.45 L250.53,243.45 L251.11,243.45 L251.69,243.45 L252.27,243.45 L252.85,243.45 L253.43,243.45 L254.01,243.45 L254.60,243.45 L255.18,243.45 L255.76,243.45 L256.34,243.45 L256.92,243.45 L257.50,243.45 L258.08,243.45 L258.67,243.45 L259.25,243.45 L259.83,243.45 L260.41,243.45 L260.99,243.45 L261.57,243.45 L262.16,243.45 L262.74,243.45 L263.32,243.45 L263.90,243.45 L264.48,243.45 L265.06,243.45 L265.64,243.45 L266.23,243.45 L266.81,243.45 L267.39,243.45 L267.97,243.45 L268.55,243.45 L269.13,243.45 L269.71,243.45 L270.30,243.45 L270.88,243.45 L271.46,243.45 L272.04,243.45 L272.62,243.45 L273.20,243.45 L273.78,243.45 L274.37,243.45 L274.95,243.45 L275.53,243.45 L276.11,243.45 L276.69,243.45 L277.27,243.45 L277.86,243.45 L278.44,243.45 L279.02,243.45 L279.60,243.45 L280.18,243.45 L280.76,243.45 L281.34,243.45 L281.93,243.45 L282.51,243.45 L283.09,243.45 L283.67,243.45 L284.25,243.45 L284.83,243.45 L285.41,243.45 L286.00,243.45 L286.58,243.45 L287.16,243.45 L287.74,243.45 L288.32,243.45 L288.90,243.45 L289.48,243.45 L290.07,243.45 L290.65,243.45 L291.23,243.45 L291.81,243.45 L292.39,243.45 L292.97,243.45 L293.56,243.45 L294.14,243.45 L294.72,243.45 L295.30,243.45 L295.88,243.45 L296.46,243.45 L297.04,243.45 L297.63,243.45 L298.21,243.45 L298.79,243.45 L299.37,243.45 L299.95,243.45 L300.53,243.45 L301.11,243.45 L301.70,243.45 L302.28,243.45 L302.86,243.45 L303.44,243.45 L304.02,243.45 L304.60,243.45 L305.19,243.45 L305.77,243.45 L306.35,243.45 L306.93,243.45 L307.51,243.45 L308.09,243.45 L308.67,243.45 L309.26,243.45 L309.84,243.45 L310.42,243.45 L311.00,243.45 L311.58,243.45 L312.16,243.45 L312.74,243.45 L313.33,243.45 L313.91,243.45 L314.49,243.45 L315.07,243.45 L315.65,243.45 L316.23,243.45 L316.81,243.45 L317.40,243.45 L317.98,243.45 L318.56,243.45 L319.14,243.45 L319.72,243.45 L320.30,243.45 L320.89,243.45 L321.47,243.45 L322.05,243.45 L322.63,243.45 L323.21,243.45 L323.79,243.45 L324.37,243.45 L324.96,243.45 L325.54,243.45 L326.12,243.45 L326.70,243.45 L327.28,243.45 L327.86,243.45 L328.44,243.45 L329.03,243.45 L329.61,243.45 L330.19,243.45 L330.77,243.45 L331.35,243.45 L331.93,243.45 L332.51,243.45 L333.10,243.45 L333.68,243.45 L334.26,243.45 L334.84,243.45 L335.42,243.45 L336.00,243.45 L336.59,243.45 L337.17,243.45 L337.75,243.45 L338.33,243.45 L338.91,243.45 L339.49,243.45 L340.07,243.45 L340.66,243.45 L341.24,243.45 L341.82,243.45 L342.40,243.45 L342.98,243.45 L343.56,243.45 L344.14,243.45 L344.73,243.45 L345.31,243.45 L345.89,243.45 L346.47,243.45 L347.05,243.45 L347.63,243.45 L348.21,243.45 L348.80,243.45 L349.38,243.45 L349.96,243.45 L350.54,243.45 L351.12,243.45 L351.70,243.45 L352.29,243.45 L352.87,243.45 L353.45,243.45 L354.03,243.45 L354.61,243.45 L355.19,243.45 L355.77,243.45 L356.36,243.45 L356.94,243.45 L357.52,243.45 L358.10,243.45 L358.68,243.45 L359.26,243.45 L359.84,243.45 L360.43,243.45 L361.01,243.45 L361.59,243.45 L362.17,243.45 L362.75,243.45 L363.33,243.45 L363.91,243.45 L364.50,243.45 L365.08,243.45 L365.66,243.45 L366.24,243.45 L366.82,243.45 L367.40,243.45 L367.99,243.45 L368.57,243.45 L369.15,243.45 L369.73,243.45 L370.31,243.45 L370.89,243.45 L371.47,243.45" stroke="#ff0000" stroke-width="2.5" fill="none" stroke-dasharray="6.4 2.089" stroke-dashoffset="1.72"/>
<path d="M116.40,-19.58 L116.98,-6.54 L117.56,5.80 L118.14,17.50 L118.72,28.59 L119.30,39.10 L119.89,49.07 L120.47,58.52 L121.05,67.48 L121.63,75.98 L122.21,84.05 L122.79,91.71 L123.37,98.98 L123.96,105.88 L124.54,112.43 L125.12,118.66 L125.70,124.57 L126.28,130.18 L126.86,135.52 L127.45,140.59 L128.03,145.41 L128.61,150.00 L129.19,154.36 L129.77,158.50 L130.35,162.44 L130.93,166.19 L131.52,169.76 L132.10,173.16 L132.68,176.39 L133.26,179.46 L133.84,182.39 L134.42,185.18 L135.00,187.84 L135.59,190.36 L136.17,192.77 L136.75,195.07 L137.33,197.25 L137.91,199.33 L138.49,201.32 L139.07,203.21 L139.66,205.01 L140.24,206.73 L140.82,208.37 L141.40,209.93 L141.98,211.42 L142.56,212.84 L143.15,214.20 L143.73,215.49 L144.31,216.72 L144.89,217.90 L145.47,219.03 L146.05,220.10 L146.63,221.12 L147.22,222.10 L147.80,223.03 L148.38,223.92 L148.96,224.77 L149.54,225.58 L150.12,226.36 L150.70,227.10 L151.29,227.80 L151.87,228.48 L152.45,229.12 L153.03,229.74 L153.61,230.33 L154.19,230.89 L154.77,231.43 L155.36,231.94 L155.94,232.43 L156.52,232.90 L157.10,233.35 L157.68,233.78 L158.26,234.19 L158.85,234.58 L159.43,234.96 L160.01,235.32 L160.59,235.66 L161.17,235.99 L161.75,236.30 L162.33,236.61 L162.92,236.89 L163.50,237.17 L164.08,237.43 L164.66,237.68 L165.24,237.92 L165.82,238.15 L166.40,238.37 L166.99,238.59 L167.57,238.79 L168.15,238.98 L168.73,239.17 L169.31,239.34 L169.89,239.51 L170.47,239.68 L171.06,239.83 L171.64,239.98 L172.22,240.12 L172.80,240.26 L173.38,240.39 L173.96,240.52 L174.55,240.64 L175.13,240.75 L175.71,240.86 L176.29,240.97 L176.87,241.07 L177.45,241.17 L178.03,241.26 L178.62,241.35 L179.20,241.43 L179.78,241.52 L180.36,241.60 L180.94,241.67 L181.52,241.74 L182.10,241.81 L182.69,241.88 L183.27,241.94 L183.85,242.00 L184.43,242.06 L185.01,242.12 L185.59,242.17 L186.18,242.22 L186.76,242.27 L187.34,242.32 L187.92,242.36 L188.50,242.41 L189.08,242.45 L189.66,242.49 L190.25,242.53 L190.83,242.56 L191.41,242.60 L191.99,242.63 L192.57,242.67 L193.15,242.70 L193.73,242.73 L194.32,242.76 L194.90,242.78 L195.48,242.81 L196.06,242.83 L196.64,242.86 L197.22,242.88 L197.80,242.90 L198.39,242.93 L198.97,242.95 L199.55,242.97 L200.13,242.99 L200.71,243.00 L201.29,243.02 L201.88,243.04 L202.46,243.05 L203.04,243.07 L203.62,243.08 L204.20,243.10 L204.78,243.11 L205.36,243.13 L205.95,243.14 L206.53,243.15 L207.11,243.16 L207.69,243.17 L208.27,243.18 L208.85,243.19 L209.43,243.20 L210.02,243.21 L210.60,243.22 L211.18,243.23 L211.76,243.24 L212.34,243.25 L212.92,243.26 L213.50,243.26 L214.09,243.27 L214.67,243.28 L215.25,243.28 L215.83,243.29 L216.41,243.30 L216.99,243.30 L217.58,243.31 L218.16,243.31 L218.74,243.32 L219.32,243.32 L219.90,243.33 L220.48,243.33 L221.06,243.34 L221.65,243.34 L222.23,243.35 L222.81,243.35 L223.39,243.35 L223.97,243.36 L224.55,243.36 L225.13,243.37 L225.72,243.37 L226.30,243.37 L226.88,243.37 L227.46,243.38 L228.04,243.38 L228.62,243.38 L229.20,243.39 L229.79,243.39 L230.37,243.39 L230.95,243.39 L231.53,243.39 L232.11,243.40 L232.69,243.40 L233.28,243.40 L233.86,243.40 L234.44,243.40 L235.02,243.41 L235.60,243.41 L236.18,243.41 L236.76,243.41 L237.35,243.41 L237.93,243.41 L238.51,243.42 L239.09,243.42 L239.67,243.42 L240.25,243.42 L240.83,243.42 L241.42,243.42 L242.00,243.42 L242.58,243.42 L243.16,243.42 L243.74,243.43 L244.32,243.43 L244.90,243.43 L245.49,243.43 L246.07,243.43 L246.65,243.43 L247.23,243.43 L247.81,243.43 L248.39,243.43 L248.98,243.43 L249.56,243.43 L250.14,243.43 L250.72,243.43 L251.30,243.44 L251.88,243.44 L252.46,243.44 L253.05,243.44 L253.63,243.44 L254.21,243.44 L254.79,243.44 L255.37,243.44 L255.95,243.44 L256.53,243.44 L257.12,243.44 L257.70,243.44 L258.28,243.44 L258.86,243.44 L259.44,243.44 L260.02,243.44 L260.60,243.44 L261.19,243.44 L261.77,243.44 L262.35,243.44 L262.93,243.44 L263.51,243.44 L264.09,243.44 L264.68,243.44 L265.26,243.44 L265.84,243.44 L266.42,243.44 L267.00,243.44 L267.58,243.44 L268.16,243.44 L268.75,243.45 L269.33,243.45 L269.91,243.45 L270.49,243.45 L271.07,243.45 L271.65,243.45 L272.23,243.45 L272.82,243.45 L273.40,243.45 L273.98,243.45 L274.56,243.45 L275.14,243.45 L275.72,243.45 L276.30,243.45 L276.89,243.45 L277.47,243.45 L278.05,243.45 L278.63,243.45 L279.21,243.45 L279.79,243.45 L280.38,243.45 L280.96,243.45 L281.54,243.45 L282.12,243.45 L282.70,243.45 L283.28,243.45 L283.86,243.45 L284.45,243.45 L285.03,243.45 L285.61,243.45 L286.19,243.45 L286.77,243.45 L287.35,243.45 L287.93,243.45 L288.52,243.45 L289.10,243.45 L289.68,243.45 L290.26,243.45 L290.84,243.45 L291.42,243.45 L292.00,243.45 L292.59,243.45 L293.17,243.45 L293.75,243.45 L294.33,243.45 L294.91,243.45 L295.49,243.45 L296.08,243.45 L296.66,243.45 L297.24,243.45 L297.82,243.45 L298.40,243.45 L298.98,243.45 L299.56,243.45 L300.15,243.45 L300.73,243.45 L301.31,243.45 L301.89,243.45 L302.47,243.45 L303.05,243.45 L303.63,243.45 L304.22,243.45 L304.80,243.45 L305.38,243.45 L305.96,243.45 L306.54,243.45 L307.12,243.45 L307.70,243.45 L308.29,243.45 L308.87,243.45 L309.45,243.45 L310.03,243.45 L310.61,243.45 L311.19,243.45 L311.78,243.45 L312.36,243.45 L312.94,243.45 L313.52,243.45 L314.10,243.45 L314.68,243.45 L315.26,243.45 L315.85,243.45 L316.43,243.45 L317.01,243.45 L317.59,243.45 L318.17,243.45 L318.75,243.45 L319.33,243.45 L319.92,243.45 L320.50,243.45 L321.08,243.45 L321.66,243.45 L322.24,243.45 L322.82,243.45 L323.40,243.45 L323.99,243.45 L324.57,243.45 L325.15,243.45 L325.73,243.45 L326.31,243.45 L326.89,243.45 L327.48,243.45 L328.06,243.45 L328.64,243.45 L329.22,243.45 L329.80,243.45 L330.38,243.45 L330.96,243.45 L331.55,243.45 L332.13,243.45 L332.71,243.45 L333.29,243.45 L333.87,243.45 L334.45,243.45 L335.03,243.45 L335.62,243.45 L336.20,243.45 L336.78,243.45 L337.36,243.45 L337.94,243.45 L338.52,243.45 L339.10,243.45 L339.69,243.45 L340.27,243.45 L340.85,243.45 L341.43,243.45 L342.01,243.45 L342.59,243.45 L343.18,243.45 L343.76,243.45 L344.34,243.45 L344.92,243.45 L345.50,243.45 L346.08,243.45 L346.66,243.45 L347.25,243.45 L347.83,243.45 L348.41,243.45 L348.99,243.45 L349.57,243.45 L350.15,243.45 L350.73,243.45 L351.32,243.45 L351.90,243.45 L352.48,243.45 L353.06,243.45 L353.64,243.45 L354.22,243.45 L354.80,243.45 L355.39,243.45 L355.97,243.45 L356.55,243.45 L357.13,243.45 L357.71,243.45 L358.29,243.45 L358.88,243.45 L359.46,243.45 L360.04,243.45 L360.62,243.45 L361.20,243.45 L361.78,243.45 L362.36,243.45 L362.95,243.45 L363.53,243.45 L364.11,243.45 L364.69,243.45 L365.27,243.45 L365.85,243.45 L366.43,243.45 L367.02,243.45 L367.60,243.45 L368.18,243.45 L368.76,243.45 L369.34,243.45 L369.92,243.45 L370.50,243.45 L371.09,243.45 L371.67,243.45" stroke="#996633" stroke-width="2.5" fill="none" stroke-dasharray="6.4 2.087" stroke-dashoffset="3.26"/>
</g>
<g stroke="#404040" stroke-width="1" fill="none">
<line x1="54.50" y1="256.4" x2="54.50" y2="252.39999999999998"/>
<line x1="54.50" y1="0.45" x2="54.50" y2="4.45"/>
<line x1="65.04" y1="256.4" x2="65.04" y2="253.89999999999998"/>
<line x1="65.04" y1="0.45" x2="65.04" y2="2.95"/>
<line x1="75.59" y1="256.4" x2="75.59" y2="253.89999999999998"/>
<line x1="75.59" y1="0.45" x2="75.59" y2="2.95"/>
<line x1="86.13" y1="256.4" x2="86.13" y2="253.89999999999998"/>
<line x1="86.13" y1="0.45" x2="86.13" y2="2.95"/>
<line x1="96.67" y1="256.4" x2="96.67" y2="253.89999999999998"/>
<line x1="96.67" y1="0.45" x2="96.67" y2="2.95"/>
<line x1="107.22" y1="256.4" x2="107.22" y2="252.39999999999998"/>
<line x1="107.22" y1="0.45" x2="107.22" y2="4.45"/>
<line x1="117.76" y1="256.4" x2="117.76" y2="253.89999999999998"/>
<line x1="117.76" y1="0.45" x2="117.76" y2="2.95"/>
<line x1="128.30" y1="256.4" x2="128.30" y2="253.89999999999998"/>
<line x1="128.30" y1="0.45" x2="128.30" y2="2.95"/>
<line x1="138.84" y1="256.4" x2="138.84" y2="253.89999999999998"/>
<line x1="138.84" y1="0.45" x2="138.84" y2="2.95"/>
<line x1="149.39" y1="256.4" x2="149.39" y2="253.89999999999998"/>
<line x1="149.39" y1="0.45" x2="149.39" y2="2.95"/>
<line x1="159.93" y1="256.4" x2="159.93" y2="252.39999999999998"/>
<line x1="159.93" y1="0.45" x2="159.93" y2="4.45"/>
<line x1="170.47" y1="256.4" x2="170.47" y2="253.89999999999998"/>
<line x1="170.47" y1="0.45" x2="170.47" y2="2.95"/>
<line x1="181.02" y1="256.4" x2="181.02" y2="253.89999999999998"/>
<line x1="181.02" y1="0.45" x2="181.02" y2="2.95"/>
<line x1="191.56" y1="256.4" x2="191.56" y2="253.89999999999998"/>
<line x1="191.56" y1="0.45" x2="191.56" y2="2.95"/>
<line x1="202.10" y1="256.4" x2="202.10" y2="253.89999999999998"/>
<line x1="202.10" y1="0.45" x2="202.10" y2="2.95"/>
<line x1="212.65" y1="256.4" x2="212.65" y2="252.39999999999998"/>
<line x1="212.65" y1="0.45" x2="212.65" y2="4.45"/>
<line x1="223.19" y1="256.4" x2="223.19" y2="253.89999999999998"/>
<line x1="223.19" y1="0.45" x2="223.19" y2="2.95"/>
<line x1="233.73" y1="256.4" x2="233.73" y2="253.89999999999998"/>
<line x1="233.73" y1="0.45" x2="233.73" y2="2.95"/>
<line x1="244.27" y1="256.4" x2="244.27" y2="253.89999999999998"/>
<line x1="244.27" y1="0.45" x2="244.27" y2="2.95"/>
<line x1="254.82" y1="256.4" x2="254.82" y2="253.89999999999998"/>
<line x1="254.82" y1="0.45" x2="254.82" y2="2.95"/>
<line x1="265.36" y1="256.4" x2="265.36" y2="252.39999999999998"/>
<line x1="265.36" y1="0.45" x2="265.36" y2="4.45"/>
<line x1="275.90" y1="256.4" x2="275.90" y2="253.89999999999998"/>
<line x1="275.90" y1="0.45" x2="275.90" y2="2.95"/>
<line x1="286.45" y1="256.4" x2="286.45" y2="253.89999999999998"/>
<line x1="286.45" y1="0.45" x2="286.45" y2="2.95"/>
<line x1="296.99" y1="256.4" x2="296.99" y2="253.89999999999998"/>
<line x1="296.99" y1="0.45" x2="296.99" y2="2.95"/>
<line x1="307.53" y1="256.4" x2="307.53" y2="253.89999999999998"/>
<line x1="307.53" y1="0.45" x2="307.53" y2="2.95"/>
<line x1="318.08" y1="256.4" x2="318.08" y2="252.39999999999998"/>
<line x1="318.08" y1="0.45" x2="318.08" y2="4.45"/>
<line x1="328.62" y1="256.4" x2="328.62" y2="253.89999999999998"/>
<line x1="328.62" y1="0.45" x2="328.62" y2="2.95"/>
<line x1="339.16" y1="256.4" x2="339.16" y2="253.89999999999998"/>
<line x1="339.16" y1="0.45" x2="339.16" y2="2.95"/>
<line x1="349.70" y1="256.4" x2="349.70" y2="253.89999999999998"/>
<line x1="349.70" y1="0.45" x2="349.70" y2="2.95"/>
<line x1="360.25" y1="256.4" x2="360.25" y2="253.89999999999998"/>
<line x1="360.25" y1="0.45" x2="360.25" y2="2.95"/>
<line x1="370.79" y1="256.4" x2="370.79" y2="252.39999999999998"/>
<line x1="370.79" y1="0.45" x2="370.79" y2="4.45"/>
<line x1="48.2" y1="252.71" x2="50.7" y2="252.71"/>
<line x1="377.45" y1="252.71" x2="374.95" y2="252.71"/>
<line x1="48.2" y1="243.50" x2="52.2" y2="243.50"/>
<line x1="377.45" y1="243.50" x2="373.45" y2="243.50"/>
<line x1="48.2" y1="234.29" x2="50.7" y2="234.29"/>
<line x1="377.45" y1="234.29" x2="374.95" y2="234.29"/>
<line x1="48.2" y1="225.08" x2="50.7" y2="225.08"/>
<line x1="377.45" y1="225.08" x2="374.95" y2="225.08"/>
<line x1="48.2" y1="215.87" x2="50.7" y2="215.87"/>
<line x1="377.45" y1="215.87" x2="374.95" y2="215.87"/>
<line x1="48.2" y1="206.66" x2="50.7" y2="206.66"/>
<line x1="377.45" y1="206.66" x2="374.95" y2="206.66"/>
<line x1="48.2" y1="197.45" x2="52.2" y2="197.45"/>
<line x1="377.45" y1="197.45" x2="373.45" y2="197.45"/>
<line x1="48.2" y1="188.24" x2="50.7" y2="188.24"/>
<line x1="377.45" y1="188.24" x2="374.95" y2="188.24"/>
<line x1="48.2" y1="179.03" x2="50.7" y2="179.03"/>
<line x1="377.45" y1="179.03" x2="374.95" y2="179.03"/>
<line x1="48.2" y1="169.82" x2="50.7" y2="169.82"/>
<line x1="377.45" y1="169.82" x2="374.95" y2="169.82"/>
<line x1="48.2" y1="160.61" x2="50.7" y2="160.61"/>
<line x1="377.45" y1="160.61" x2="374.95" y2="160.61"/>
<line x1="48.2" y1="151.40" x2="52.2" y2="151.40"/>
<line x1="377.45" y1="151.40" x2="373.45" y2="151.40"/>
<line x1="48.2" y1="142.19" x2="50.7" y2="142.19"/>
<line x1="377.45" y1="142.19" x2="374.95" y2="142.19"/>
<line x1="48.2" y1="132.98" x2="50.7" y2="132.98"/>
<line x1="377.45" y1="132.98" x2="374.95" y2="132.98"/>
<line x1="48.2" y1="123.77" x2="50.7" y2="123.77"/>
<line x1="377.45" y1="123.77" x2="374.95" y2="123.77"/>
<line x1="48.2" y1="114.56" x2="50.7" y2="114.56"/>
<line x1="377.45" y1="114.56" x2="374.95" y2="114.56"/>
<line x1="48.2" y1="105.35" x2="52.2" y2="105.35"/>
<line x1="377.45" y1="105.35" x2="373.45" y2="105.35"/>
<line x1="48.2" y1="96.14" x2="50.7" y2="96.14"/>
<line x1="377.45" y1="96.14" x2="374.95" y2="96.14"/>
<line x1="48.2" y1="86.93" x2="50.7" y2="86.93"/>
<line x1="377.45" y1="86.93" x2="374.95" y2="86.93"/>
<line x1="48.2" y1="77.72" x2="50.7" y2="77.72"/>
<line x1="377.45" y1="77.72" x2="374.95" y2="77.72"/>
<line x1="48.2" y1="68.51" x2="50.7" y2="68.51"/>
<line x1="377.45" y1="68.51" x2="374.95" y2="68.51"/>
<line x1="48.2" y1="59.30" x2="52.2" y2="59.30"/>
<line x1="377.45" y1="59.30" x2="373.45" y2="59.30"/>
<line x1="48.2" y1="50.09" x2="50.7" y2="50.09"/>
<line x1="377.45" y1="50.09" x2="374.95" y2="50.09"/>
<line x1="48.2" y1="40.88" x2="50.7" y2="40.88"/>
<line x1="377.45" y1="40.88" x2="374.95" y2="40.88"/>
<line x1="48.2" y1="31.67" x2="50.7" y2="31.67"/>
<line x1="377.45" y1="31.67" x2="374.95" y2="31.67"/>
<line x1="48.2" y1="22.46" x2="50.7" y2="22.46"/>
<line x1="377.45" y1="22.46" x2="374.95" y2="22.46"/>
<line x1="48.2" y1="13.25" x2="52.2" y2="13.25"/>
<line x1="377.45" y1="13.25" x2="373.45" y2="13.25"/>
<line x1="48.2" y1="4.04" x2="50.7" y2="4.04"/>
<line x1="377.45" y1="4.04" x2="374.95" y2="4.04"/>
</g>
<rect x="48.2" y="0.45" width="329.25" height="255.95" fill="none" stroke="#404040" stroke-width="1"/>
<line x1="86.50" y1="70.50" x2="91.90" y2="63.67" stroke="#000" stroke-width="2.0"/><path d="M99.00,54.70 L93.91,67.25 L91.90,63.67 L87.95,62.54 Z" fill="#000"/>
<line x1="88.70" y1="77.10" x2="105.56" y2="77.10" stroke="#000" stroke-width="2.0"/><path d="M117.00,77.10 L104.00,80.90 L105.56,77.10 L104.00,73.30 Z" fill="#000"/>
<line x1="172.70" y1="59.30" x2="132.33" y2="60.62" stroke="#000" stroke-width="2.0"/><path d="M120.90,61.00 L133.77,56.78 L132.33,60.62 L134.02,64.37 Z" fill="#000"/>
<line x1="175.30" y1="65.60" x2="169.73" y2="70.58" stroke="#000" stroke-width="2.0"/><path d="M161.20,78.20 L168.36,66.70 L169.73,70.58 L173.43,72.37 Z" fill="#000"/>
<line x1="96.30" y1="182.30" x2="140.64" y2="169.07" stroke="#000" stroke-width="2.0"/><path d="M151.60,165.80 L140.23,173.16 L140.64,169.07 L138.06,165.88 Z" fill="#000"/>
<line x1="96.30" y1="188.00" x2="107.12" y2="190.77" stroke="#000" stroke-width="2.0"/><path d="M118.20,193.60 L104.66,194.06 L107.12,190.77 L106.55,186.70 Z" fill="#000"/>
<g style="filter:grayscale(1)">
<text x="55.20" y="272.4" text-anchor="middle">0.0</text>
<text x="107.92" y="272.4" text-anchor="middle">0.5</text>
<text x="160.63" y="272.4" text-anchor="middle">1.0</text>
<text x="213.34" y="272.4" text-anchor="middle">1.5</text>
<text x="266.06" y="272.4" text-anchor="middle">2.0</text>
<text x="318.78" y="272.4" text-anchor="middle">2.5</text>
<text x="371.49" y="272.4" text-anchor="middle">3.0</text>
<text x="45.3" y="248.10" text-anchor="end">0.0</text>
<text x="45.3" y="202.05" text-anchor="end">0.5</text>
<text x="45.3" y="156.00" text-anchor="end">1.0</text>
<text x="45.3" y="109.95" text-anchor="end">1.5</text>
<text x="45.3" y="63.90" text-anchor="end">2.0</text>
<text x="45.3" y="17.85" text-anchor="end">2.5</text>
<text x="80.2" y="79" text-anchor="middle" style="font-size:13px">1</text>
<text x="180" y="63.6" style="font-size:13px">2.5</text>
<text x="92.2" y="188.6" text-anchor="end" style="font-size:13px">1.5</text>
<text x="200.5" y="297.0">r/w<tspan font-size="10" dx="1.2" dy="3.0">0</tspan></text>
<text transform="translate(13.9,173) rotate(-90)"><tspan x="0" y="0">10</tspan><tspan font-size="9.5" x="17.05" y="-5.8">2</tspan><tspan x="22.5" y="0">a</tspan><tspan font-size="9.5" x="30.25" y="-5.8">4</tspan><tspan x="36" y="0">n</tspan><tspan font-size="10" x="45.1" y="1.6">ϕ</tspan><tspan x="51.6" y="0">&lt;</tspan><tspan x="61.2" y="0">j</tspan><tspan font-size="10" x="66" y="1.6">ϕ</tspan><tspan x="71.2" y="0">&gt;</tspan><tspan x="78.9" y="0">/</tspan><tspan x="83.1" y="0">e</tspan></text>
</g>
</svg>
</body></html>
